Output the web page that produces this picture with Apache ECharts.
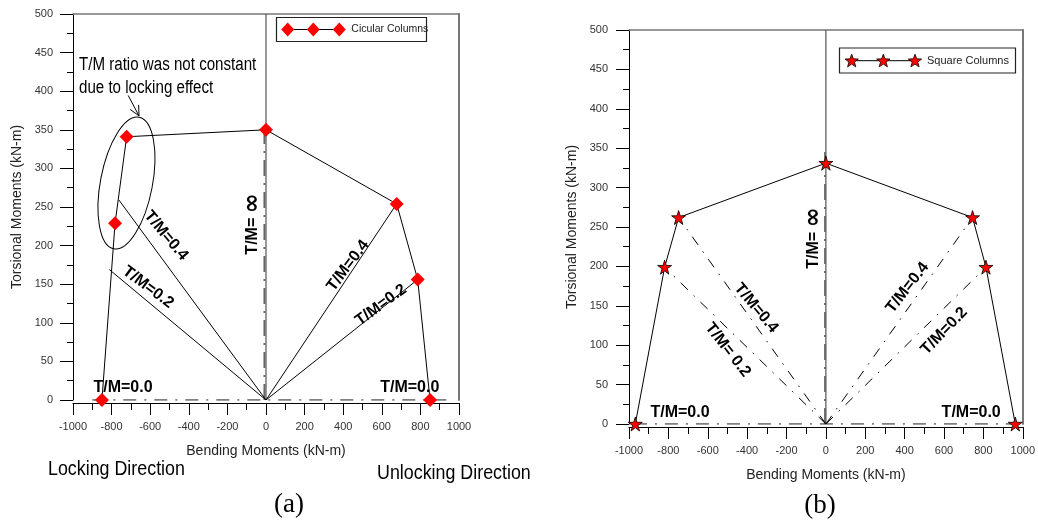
<!DOCTYPE html>
<html><head><meta charset="utf-8">
<script src="https://cdn.jsdelivr.net/npm/echarts@6/dist/echarts.min.js"></script>
<style>html,body{margin:0;padding:0;background:#fff}#c{width:1038px;height:520px}</style>
</head><body><div id="c"></div>
<script>
// ---------- DATA ----------
// Panel (a): circular columns, interaction curve
const circBending = [-850, -782, -722, 0, 677, 786, 850];
const circTorsion = [0, 229, 341, 350, 254, 156, 0];
// Panel (b): square columns, interaction curve
const sqBending = [-968, -819, -748, 0, 745, 813, 962];
const sqTorsion = [0, 199, 262, 331, 262, 199, 0];
// Loading paths (rays from origin) [bending, torsion] end points
const raysA = [[-762, 259], [-812, 169], [677, 254], [786, 156]];
const raysB = [[-748, 262], [-819, 199], [745, 262], [813, 199]];
// T/M = 0.0 and T/M = infinity reference paths
const zeroPathA = [[-900, 0], [935, 0]];
const infPathA = [[-8, 0], [-8, 352]];
const zeroPathB = [[-975, 0], [975, 0]];
const infPathB = [[-4, 0], [-4, 350]];
// Axis setup
const xMin = -1000, xMax = 1000, xStep = 200;
const yMin = 0, yMax = 500, yStep = 50;
// Text annotations: [bending, torsion, text, angle in degrees]
const labelsA = [
  [-518, 213, 'T/M=0.4', -50], [-611, 146, 'T/M=0.2', -37], [-67, 228, 'T/M= |\u221E', 90],
  [425, 174, 'T/M=0.4', 53], [596, 123, 'T/M=0.2', 36],
  [-741, 16, 'T/M=0.0', 0], [745, 16, 'T/M=0.0', 0]
];
const labelsB = [
  [-354, 147, 'T/M=0.4', -50], [-498, 94, 'T/M= 0.2', -52], [-64, 236, 'T/M= |\u221E', 90],
  [415, 173, 'T/M=0.4', 52], [601, 118, 'T/M=0.2', 46],
  [-741, 14, 'T/M=0.0', 0], [738, 14, 'T/M=0.0', 0]
];
const noteLines = ['T/M ratio was not constant', 'due to locking effect'];
const noteAnchors = [[-969, 434], [-969, 404.5]];
const ellipseCenter = [-723, 281];
const arrowFrom = [-714, 394.5], arrowTo = [-658, 368];
const legendA = 'Cicular Columns', legendB = 'Square Columns';
const xName = 'Bending Moments (kN-m)', yName = 'Torsional Moments (kN-m)';
const captions = ['Locking Direction', 'Unlocking Direction', '(a)', '(b)'];

// ---------- CHART ----------
const SANS = '"Liberation Sans", Arial, Helvetica, sans-serif';
const SERIF = '"Liberation Serif", "Times New Roman", serif';
const STAR = 'path://M50,2 L61,37 L98,37 L68,59 L79,95 L50,73 L21,95 L32,59 L2,37 L39,37 Z';

const chart = echarts.init(document.getElementById('c'), null, {renderer: 'canvas'});

function bottomX(grid, offset) {
  return {type: 'value', gridIndex: grid, min: xMin, max: xMax, interval: xStep, offset: offset,
    axisLine: {show: true, onZero: false, lineStyle: {color: '#000', width: 1}},
    axisTick: {show: true, inside: false, length: 12, lineStyle: {color: '#000'}},
    minorTick: {show: true, splitNumber: 2, length: 7, lineStyle: {color: '#000'}},
    axisLabel: {show: true, margin: 18, fontSize: 11, color: '#333', fontFamily: SANS,
      showMinLabel: true, showMaxLabel: true, formatter: v => String(v)},
    splitLine: {show: false},
    name: xName, nameLocation: 'middle', nameGap: 41,
    nameTextStyle: {fontSize: 14, color: '#222', fontFamily: SANS}};
}
function topX(grid) {
  return {type: 'value', gridIndex: grid, position: 'top', min: xMin, max: xMax,
    axisLine: {show: true, onZero: false, lineStyle: {color: '#777', width: 1.5}},
    axisTick: {show: false}, axisLabel: {show: false}, splitLine: {show: false}};
}
function leftY(grid, margin, gap) {
  return {type: 'value', gridIndex: grid, min: yMin, max: yMax, interval: yStep,
    axisLine: {show: true, onZero: false, lineStyle: {color: '#000', width: 1}},
    axisTick: {show: true, inside: false, length: 13, lineStyle: {color: '#000'}},
    minorTick: {show: true, splitNumber: 2, length: 6, lineStyle: {color: '#000'}},
    axisLabel: {show: true, margin: margin, fontSize: 11, color: '#333', fontFamily: SANS, formatter: v => String(v)},
    splitLine: {show: false},
    name: yName, nameLocation: 'middle', nameGap: gap,
    nameTextStyle: {fontSize: 14, color: '#222', fontFamily: SANS}};
}
function rightY(grid) {
  return {type: 'value', gridIndex: grid, position: 'right', min: yMin, max: yMax,
    axisLine: {show: true, onZero: false, lineStyle: {color: '#777', width: 2}},
    axisTick: {show: false}, axisLabel: {show: false}, splitLine: {show: false}};
}
function seg(pts, ai, lineStyle, z) {
  return {type: 'line', xAxisIndex: ai, yAxisIndex: ai, data: pts, symbol: 'none',
    lineStyle: lineStyle, silent: true, z: z || 2, animation: false};
}
const pair = (xs, ys) => xs.map((x, i) => [x, ys[i]]);

const series = [];
// panel a
series.push(seg([[0, 0], [0, 500]], 0, {color: '#555', width: 1.2}, 1));
series.push(seg(infPathA, 0, {color: '#666', width: 2, type: [16, 7, 2, 7]}, 2));
series.push(seg(zeroPathA, 0, {color: '#555', width: 1.5, type: [13, 8, 2, 8]}, 2));
raysA.forEach(p => series.push(seg([[0, 0], p], 0, {color: '#000', width: 1}, 3)));
series.push({type: 'line', name: legendA, xAxisIndex: 0, yAxisIndex: 0, data: pair(circBending, circTorsion),
  symbol: 'diamond', symbolSize: 14, itemStyle: {color: '#ff0000'},
  lineStyle: {color: '#000', width: 1}, z: 10, animation: false});
// panel b
series.push(seg([[0, 0], [0, 500]], 2, {color: '#555', width: 1.2}, 1));
series.push(seg(infPathB, 2, {color: '#666', width: 2, type: [16, 7, 2, 7]}, 2));
series.push(seg(zeroPathB, 2, {color: '#555', width: 1.5, type: [13, 8, 2, 8]}, 2));
raysB.forEach(p => series.push(seg([[0, 0], p], 2, {color: '#000', width: 1, type: [10, 8, 1.5, 8]}, 3)));
series.push({type: 'line', name: legendB, xAxisIndex: 2, yAxisIndex: 2, data: pair(sqBending, sqTorsion),
  symbol: STAR, symbolSize: 14, itemStyle: {color: '#ff0000', borderColor: '#000', borderWidth: 0.8},
  lineStyle: {color: '#000', width: 1}, z: 10, animation: false});

chart.setOption({
  animation: false,
  backgroundColor: '#fff',
  grid: [
    {left: 73, top: 14, width: 386, height: 386},
    {left: 629, top: 30, width: 397, height: 394}
  ],
  xAxis: [bottomX(0, 3), topX(0), bottomX(1, 3), topX(1)],
  yAxis: [leftY(0, 20, 49), rightY(0), leftY(1, 21, 50), rightY(1)],
  series: series
});

// ---------- ANNOTATIONS (placed through the axes) ----------
const toPx = (ai, p) => chart.convertToPixel({xAxisIndex: ai, yAxisIndex: ai}, p);
const g = [];
function txt(x, y, text, font, align, extra) {
  return Object.assign({type: 'text', x: x, y: y, z: 20,
    style: {text: text, font: font, fill: '#000', align: align, verticalAlign: 'middle',
      textAlign: align, textVerticalAlign: 'middle'}}, extra || {});
}
function addLabels(list, ai) {
  list.forEach(l => {
    const p = toPx(ai, [l[0], l[1]]);
    const rot = {rotation: l[3] * Math.PI / 180};
    if (l[2].indexOf('|') >= 0) {
      const parts = l[2].split('|');
      const t = txt(p[0], p[1], '{a|' + parts[0] + '}{b|' + parts[1] + '}', 'bold 16px ' + SANS, 'center', rot);
      t.style.rich = {
        a: {fontSize: 16, fontWeight: 'bold', fontFamily: SANS, fill: '#000', verticalAlign: 'middle'},
        b: {fontSize: 24, fontWeight: 'bold', fontFamily: '"DejaVu Sans", sans-serif', fill: '#000', verticalAlign: 'middle'}
      };
      g.push(t);
    } else {
      g.push(txt(p[0], p[1], l[2], 'bold 16px ' + SANS, 'center', rot));
    }
  });
}
addLabels(labelsA, 0);
addLabels(labelsB, 2);
noteLines.forEach((t, i) => {
  const p = toPx(0, noteAnchors[i]);
  g.push(txt(p[0], p[1], t, '18px ' + SANS, 'left', {scaleX: 0.84}));
});
const ec = toPx(0, ellipseCenter);
g.push({type: 'ellipse', x: ec[0], y: ec[1], rotation: -0.19, z: 20,
  shape: {cx: 0, cy: 0, rx: 26, ry: 67}, style: {fill: 'none', stroke: '#000', lineWidth: 1}});
const a0 = toPx(0, arrowFrom), a1 = toPx(0, arrowTo);
const ang = Math.atan2(a1[1] - a0[1], a1[0] - a0[0]);
const arm = k => [a1[0] - 11 * Math.cos(ang + k), a1[1] - 11 * Math.sin(ang + k)];
g.push({type: 'polyline', z: 20, shape: {points: [a0, a1]}, style: {stroke: '#000', lineWidth: 1, fill: 'none'}});
g.push({type: 'polyline', z: 20, shape: {points: [arm(0.45), a1, arm(-0.45)]}, style: {stroke: '#000', lineWidth: 1, fill: 'none'}});

// captions under the panels
g.push(txt(48, 469, captions[0], '21px ' + SANS, 'left', {scaleX: 0.85}));
g.push(txt(377, 473, captions[1], '21px ' + SANS, 'left', {scaleX: 0.85}));
g.push(txt(289, 505, captions[2], '27px ' + SERIF, 'center'));
g.push(txt(820, 506, captions[3], '27px ' + SERIF, 'center'));

// legends
function legend(box, xs, cy, text, kind, fontSize) {
  g.push({type: 'rect', z: 20, shape: {x: box[0], y: box[1], width: box[2], height: box[3]},
    style: {fill: '#fff', stroke: '#222', lineWidth: 1.2}});
  g.push({type: 'line', z: 21, shape: {x1: xs[0], y1: cy, x2: xs[2], y2: cy}, style: {stroke: '#000', lineWidth: 1}});
  xs.forEach(x => {
    if (kind === 'diamond') {
      g.push({type: 'polygon', z: 22, shape: {points: [[x, cy - 7], [x + 6.5, cy], [x, cy + 7], [x - 6.5, cy]]},
        style: {fill: '#ff0000'}});
    } else {
      const pts = [];
      for (let k = 0; k < 10; k++) {
        const r = k % 2 === 0 ? 7 : 2.9, t = -Math.PI / 2 + k * Math.PI / 5;
        pts.push([x + r * Math.cos(t), cy + 0.5 + r * Math.sin(t)]);
      }
      g.push({type: 'polygon', z: 22, shape: {points: pts}, style: {fill: '#ff0000', stroke: '#000', lineWidth: 0.8}});
    }
  });
  const t = txt(xs[2] + 12, cy, text, fontSize + 'px ' + SANS, 'left');
  t.z = 22; t.style.fill = '#222';
  g.push(t);
}
legend([276.5, 17.5, 150, 24], [287.7, 313.3, 339.3], 29.5, legendA, 'diamond', 10.5);
legend([839.5, 48, 176, 25], [851.7, 883.3, 915], 60.7, legendB, 'star', 11);

chart.setOption({graphic: g});
</script>
</body></html>
